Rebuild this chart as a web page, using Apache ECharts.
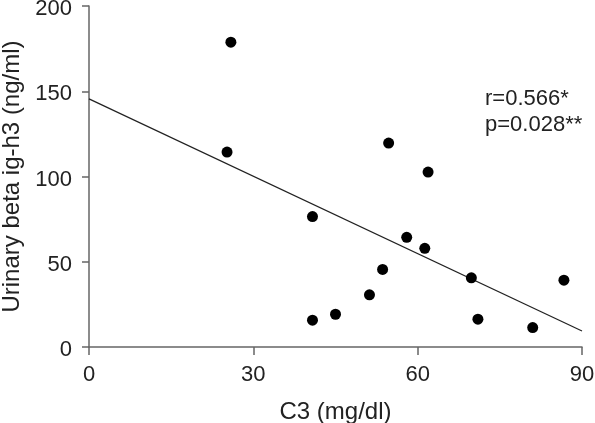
<!DOCTYPE html>
<html>
<head>
<meta charset="utf-8">
<script src="https://cdn.jsdelivr.net/npm/echarts@6/dist/echarts.min.js"></script>
<style>
  html, body { margin: 0; padding: 0; background: #fff; }
  #root { width: 595px; height: 423px; }
</style>
</head>
<body>
<div id="root"></div>
<script>
// C3 (mg/dl) vs urinary beta ig-h3 (ng/ml)
const c3Values = [25.9, 25.2, 40.8, 40.8, 45.0, 51.2, 53.6, 54.7, 58.0, 61.3, 61.9, 69.8, 71.0, 81.0, 86.7];
const bigh3Values = [178.8, 114.3, 76.5, 15.7, 19.2, 30.6, 45.5, 119.6, 64.3, 57.9, 102.6, 40.6, 16.3, 11.4, 39.2];
// regression line end points
const fitX = [0, 90];
const fitY = [145.5, 9.4];
const statLines = ['r=0.566*', 'p=0.028**'];

const font = '"Liberation Sans", Arial, sans-serif';
const axisColor = '#666';

let root = document.getElementById('root');
let myChart = echarts.init(root);

let option = {
  animation: false,
  backgroundColor: '#fff',
  grid: {
    left: 89,
    right: 13,
    top: 6,
    bottom: 76,
    containLabel: false,
    outerBoundsMode: 'none',
  },
  xAxis: {
    type: 'value',
    min: 0,
    max: 90,
    interval: 30,
    name: 'C3 (mg/dl)',
    nameLocation: 'middle',
    nameGap: 53,
    nameTextStyle: { fontFamily: font, fontSize: 24, color: '#222' },
    axisLine: { show: true, onZero: false, lineStyle: { color: axisColor, width: 1.5 } },
    axisTick: { show: true, inside: false, length: 8, lineStyle: { color: axisColor, width: 1.5 } },
    axisLabel: { margin: 17, fontFamily: font, fontSize: 22, color: '#222' },
    splitLine: { show: false },
  },
  yAxis: {
    type: 'value',
    min: 0,
    max: 200,
    interval: 50,
    name: 'Urinary beta ig-h3 (ng/ml)',
    nameLocation: 'middle',
    nameGap: 64,
    nameTextStyle: { fontFamily: font, fontSize: 24, color: '#222' },
    axisLine: { show: true, onZero: false, lineStyle: { color: axisColor, width: 1.5 } },
    axisTick: { show: true, inside: false, length: 7, lineStyle: { color: axisColor, width: 1.5 } },
    axisLabel: {
      margin: 17,
      verticalAlign: 'top',
      lineHeight: 6,
      fontFamily: font,
      fontSize: 22,
      color: '#222',
    },
    splitLine: { show: false },
  },
  series: [
    {
      type: 'line',
      data: fitX.map((x, i) => [x, fitY[i]]),
      symbol: 'none',
      lineStyle: { color: '#222', width: 1.3 },
      z: 1,
    },
    {
      type: 'scatter',
      data: c3Values.map((x, i) => [x, bigh3Values[i]]),
      symbol: 'circle',
      symbolSize: 11,
      itemStyle: { color: '#000', opacity: 1 },
      z: 2,
    },
  ],
  graphic: [
    {
      type: 'text',
      left: 485,
      top: 86,
      style: {
        text: statLines.join('\n'),
        font: '22px ' + font,
        lineHeight: 26,
        fill: '#222',
      },
    },
  ],
};
myChart.setOption(option);
</script>
</body>
</html>
